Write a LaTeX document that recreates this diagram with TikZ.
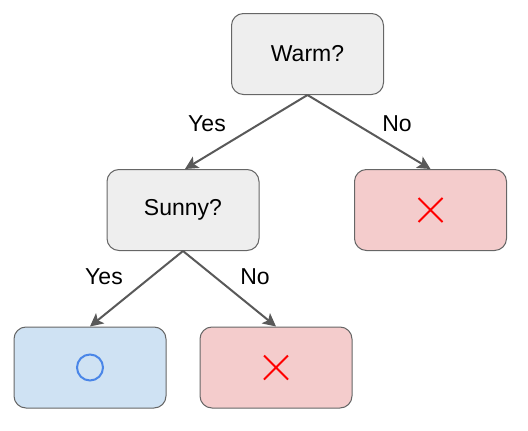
\documentclass[tikz,border=0pt]{standalone}
\usepackage{fontspec}
\setmainfont{Liberation Sans}
\usetikzlibrary{arrows.meta}
\definecolor{boxgray}{HTML}{EEEEEE}
\definecolor{boxline}{HTML}{666666}
\definecolor{boxblue}{HTML}{CFE2F3}
\definecolor{boxpink}{HTML}{F4CCCC}
\definecolor{arrowgray}{HTML}{595959}
\definecolor{circblue}{HTML}{4A86E8}
\definecolor{crossred}{HTML}{FF0000}
\tikzset{
  box/.style={rectangle, rounded corners=12pt, draw=boxline, line width=1pt,
    minimum width=152pt, minimum height=81pt, inner sep=0pt, font=\fontsize{23}{26}\selectfont},
  qbox/.style={box, fill=boxgray},
  bluebox/.style={box, fill=boxblue},
  pinkbox/.style={box, fill=boxpink},
  conn/.style={draw=arrowgray, line width=2pt, -{Stealth[length=13pt,width=13pt,inset=3pt]}},
  lbl/.style={font=\fontsize{23}{26}\selectfont, inner sep=0pt},
  crossmark/.style={draw=crossred, line width=2pt},
  circmark/.style={draw=circblue, line width=2pt}
}
\begin{document}
\begin{tikzpicture}[x=1pt,y=-1pt]
\useasboundingbox (0,0) rectangle (528,431);
\node[qbox] (warm) at (307.5,54) {Warm?};
\node[qbox] (sunny) at (183,210) {Sunny?};
\node[pinkbox] (nowarm) at (430.5,210) {};
\node[bluebox] (yes) at (90,367.5) {};
\node[pinkbox] (nosun) at (276,367.5) {};
\draw[conn] (warm.south) -- (sunny.north -| 185,0);
\draw[conn] (warm.south) -- (nowarm.north);
\draw[conn] (sunny.south) -- (yes.north);
\draw[conn] (sunny.south) -- (nosun.north);
\node[lbl] (l1) at (207,124) {Yes};
\node[lbl] (l2) at (397,124) {No};
\node[lbl] (l3) at (104,277) {Yes};
\node[lbl] (l4) at (255,277) {No};
\draw[circmark] (yes.center) circle (13pt);
\draw[crossmark] ([shift={(-12,-12)}]nosun.center) -- ([shift={(12,12)}]nosun.center)
  ([shift={(-12,12)}]nosun.center) -- ([shift={(12,-12)}]nosun.center);
\draw[crossmark] ([shift={(-12,-12)}]nowarm.center) -- ([shift={(12,12)}]nowarm.center)
  ([shift={(-12,12)}]nowarm.center) -- ([shift={(12,-12)}]nowarm.center);
\end{tikzpicture}
\end{document}
